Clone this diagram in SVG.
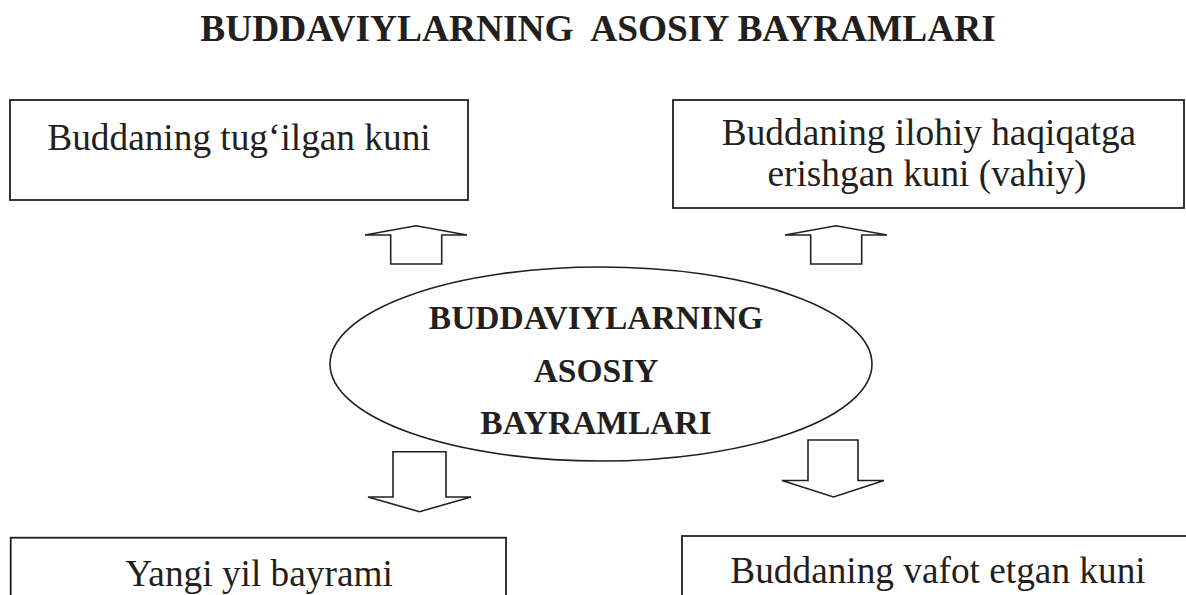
<svg xmlns="http://www.w3.org/2000/svg" width="1186" height="595" viewBox="0 0 1186 595">
  <style>
    .box { fill: #ffffff; stroke: #231f20; stroke-width: 1.8; }
    .ell { fill: #ffffff; stroke: #231f20; stroke-width: 1.6; }
    .arrow { fill: #ffffff; stroke: #231f20; stroke-width: 1.6; stroke-linejoin: miter; }
    .t { font-family: "Liberation Serif", "Times New Roman", serif; font-size: 37.3px; fill: #231f20; text-anchor: middle; }
    .b { font-family: "Liberation Serif", "Times New Roman", serif; font-weight: bold; fill: #231f20; text-anchor: middle; }
  </style>
  <rect width="1186" height="595" fill="#ffffff"/>
  <text id="title" class="b" x="598" y="40.5" font-size="37.4" xml:space="preserve">BUDDAVIYLARNING  ASOSIY BAYRAMLARI</text>

  <g id="node-birth">
    <rect class="box" x="10" y="100" width="458" height="100"/>
    <text class="t" x="239" y="150">Buddaning tug‘ilgan kuni</text>
  </g>
  <g id="node-vahiy">
    <rect class="box" x="673" y="100" width="511" height="108"/>
    <text class="t" x="929" y="145">Buddaning ilohiy haqiqatga</text>
    <text class="t" x="927" y="186">erishgan kuni (vahiy)</text>
  </g>
  <g id="node-center">
    <ellipse class="ell" cx="601" cy="364" rx="271" ry="97"/>
    <text class="b" x="596" y="329" font-size="33.5">BUDDAVIYLARNING</text>
    <text class="b" x="596" y="382" font-size="33.5">ASOSIY</text>
    <text class="b" x="596" y="434" font-size="33.5">BAYRAMLARI</text>
  </g>
  <g id="node-newyear">
    <rect class="box" x="10.7" y="537.7" width="495.3" height="80"/>
    <text class="t" x="259" y="586">Yangi yil bayrami</text>
  </g>
  <g id="node-death">
    <rect class="box" x="682" y="536" width="520" height="80"/>
    <text class="t" x="938" y="583.3">Buddaning vafot etgan kuni</text>
  </g>

  <g id="connectors">
    <polygon class="arrow" points="390.7,264 390.7,235 365,235 416,225.7 467,235 441.7,235 441.7,264"/>
    <polygon class="arrow" points="810.7,264 810.7,235 785,235 836,225.7 887,235 861.7,235 861.7,264"/>
    <polygon class="arrow" points="393,451.7 393,497 368,497 419.5,511.7 471,497 446,497 446,451.7"/>
    <polygon class="arrow" points="808,440 808,480.5 782,480.5 833.5,497 884,480.5 858,480.5 858,440"/>
  </g>
</svg>
